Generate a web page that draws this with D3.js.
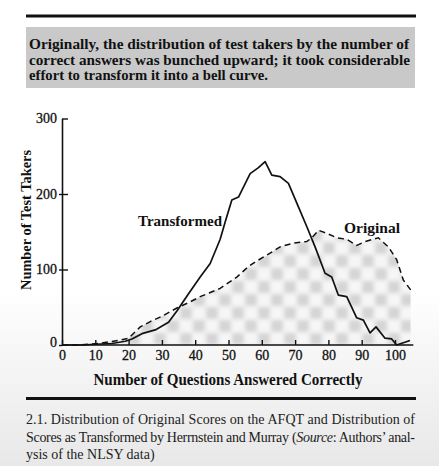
<!DOCTYPE html>
<html>
<head>
<meta charset="utf-8">
<script src="https://cdn.jsdelivr.net/npm/d3@7"></script>
<style>
  html, body { margin: 0; padding: 0; }
  body { width: 439px; height: 466px; overflow: hidden; background: #fff; }
  svg { display: block; }
</style>
</head>
<body>
<div id="chart"></div>
<script>
// values (questions answered correctly -> number of test takers)
var transformedX = [0, 6, 10, 15, 19, 21, 24, 28, 32, 34.5, 38, 41.5, 44.5, 47.5, 49, 51, 53, 56.5, 59, 61, 63, 65.5, 68, 71, 73.5, 76, 79, 81, 83, 85.5, 88.5, 90.5, 92.5, 94.3, 97, 99, 100.5, 104.5];
var transformedY = [0, 0, 1, 2, 5, 8, 15, 20, 30, 45, 68, 90, 108, 140, 163, 192, 196, 227, 235, 243, 225, 223, 214, 183, 157, 130, 95, 90, 66, 64, 36, 33, 16, 24, 9, 8, 0, 6];

var originalX = [0, 5, 11, 17, 20, 23.5, 26.5, 30, 34.5, 38, 41.5, 47.5, 52.5, 56, 58, 61.5, 65.5, 69.5, 73.5, 75, 77, 79.5, 82.5, 85.5, 88.5, 91, 95, 98, 100.5, 102.5, 104.7];
var originalY = [0, 0, 2, 6, 9, 24, 31, 38, 49, 56, 64, 75, 90, 104, 110, 119, 130, 135, 137, 142, 152, 148, 142, 140, 132, 137, 142, 130, 113, 86, 73];

var xTicks = [0, 10, 20, 30, 40, 50, 60, 70, 80, 90, 100];
var yTicks = [0, 100, 200, 300];

var headline = [
  "Originally, the distribution of test takers by the number of",
  "correct answers was bunched upward; it took considerable",
  "effort to transform it into a bell curve."
];
var caption = [
  "2.1. Distribution of Original Scores on the AFQT and Distribution of",
  "Scores as Transformed by Herrnstein and Murray (",
  "ysis of the NLSY data)"
];

var W = 439, H = 466;
var serif = "Liberation Serif, Tinos, Times New Roman, Times, serif";

var svg = d3.select("#chart").append("svg")
  .attr("width", W).attr("height", H);

var defs = svg.append("defs");

// soft photo-like shading toward the bottom of the page
var bg = defs.append("linearGradient").attr("id", "bg")
  .attr("x1", 0).attr("y1", 0).attr("x2", 0).attr("y2", 1);
bg.append("stop").attr("offset", "0.62").attr("stop-color", "#ffffff");
bg.append("stop").attr("offset", "1").attr("stop-color", "#e8e8e8");
svg.append("rect").attr("width", W).attr("height", H).attr("fill", "url(#bg)");

// checker screen under the original curve
var pat = defs.append("pattern").attr("id", "checker")
  .attr("patternUnits", "userSpaceOnUse")
  .attr("width", 26).attr("height", 26)
  .attr("x", 62).attr("y", 345);
pat.append("rect").attr("width", 26).attr("height", 26).attr("fill", "#f6f6f6");
pat.append("rect").attr("x", 1).attr("y", 1).attr("width", 12).attr("height", 12).attr("fill", "#d4d4d4");
pat.append("rect").attr("x", 14).attr("y", 14).attr("width", 12).attr("height", 12).attr("fill", "#d4d4d4");

var blur = defs.append("filter").attr("id", "soft");
blur.append("feGaussianBlur").attr("stdDeviation", 2.2);

// header rule and grey box
svg.append("rect").attr("x", 26).attr("y", 14.5).attr("width", 390).attr("height", 3).attr("fill", "#111");
svg.append("rect").attr("x", 26).attr("y", 27).attr("width", 389).attr("height", 61).attr("fill", "#c9c9c9");

svg.append("g").selectAll("text").data(headline).join("text")
  .attr("x", 29)
  .attr("y", function(d, i) { return 49 + i * 15.5; })
  .attr("textLength", function(d, i) { return [380, 381, 239][i]; })
  .attr("lengthAdjust", "spacingAndGlyphs")
  .attr("font-family", serif).attr("font-weight", "bold").attr("font-size", 15)
  .attr("fill", "#111")
  .text(function(d) { return d; });

// scales
var x = d3.scaleLinear().domain([0, 100]).range([62, 395]);
var y = d3.scaleLinear().domain([0, 300]).range([345, 118.5]);

var orig = originalX.map(function(v, i) { return [v, originalY[i]]; });
var trans = transformedX.map(function(v, i) { return [v, transformedY[i]]; });

var plot = svg.append("g");

var area = d3.area()
  .x(function(d) { return x(d[0]); })
  .y0(y(0))
  .y1(function(d) { return y(d[1]); });

defs.append("clipPath").attr("id", "under")
  .append("path").datum(orig).attr("d", area);

// blurred screen, clipped to the area so edges stay sharp
plot.append("g").attr("clip-path", "url(#under)")
  .append("rect")
  .attr("x", x(0) - 10).attr("y", y(300)).attr("width", x(106) - x(0) + 20).attr("height", y(0) - y(300) + 10)
  .attr("fill", "url(#checker)")
  .attr("filter", "url(#soft)");

var line = d3.line()
  .x(function(d) { return x(d[0]); })
  .y(function(d) { return y(d[1]); });

plot.append("path").datum(orig)
  .attr("d", line)
  .attr("fill", "none").attr("stroke", "#111")
  .attr("stroke-width", 1.5).attr("stroke-dasharray", "6,4");

plot.append("path").datum(trans)
  .attr("d", line)
  .attr("fill", "none").attr("stroke", "#111")
  .attr("stroke-width", 1.7).attr("stroke-linejoin", "round");

// axes
var xAxis = svg.append("g").attr("transform", "translate(0," + y(0) + ")")
  .call(d3.axisBottom(x).tickValues(xTicks).tickSize(-5).tickPadding(5).tickSizeOuter(0));
xAxis.select(".domain").attr("d", "M" + x(0) + ",0H" + x(105.5)).attr("stroke-width", 1.6);

var yAxis = svg.append("g").attr("transform", "translate(" + x(0) + ",0)")
  .call(d3.axisLeft(y).tickValues(yTicks).tickSize(0).tickPadding(5).tickSizeOuter(0));
yAxis.select(".domain").attr("stroke-width", 1.6);
// y ticks cross the axis, mostly to the inside
yAxis.selectAll(".tick line")
  .attr("x1", function(d) { return d === 300 ? 0 : -3; })
  .attr("x2", function(d) { return d === 0 ? 0 : 6; });

svg.selectAll(".tick line").attr("stroke", "#111").attr("stroke-width", 1.4);
svg.selectAll(".domain").attr("stroke", "#111");
svg.selectAll(".tick text")
  .attr("font-family", serif).attr("font-size", 14)
  .attr("fill", "#111").attr("stroke", "#111").attr("stroke-width", 0.3);
yAxis.selectAll(".tick text").attr("dy", "0.32em");
yAxis.selectAll(".tick").filter(function(d) { return d === 0; }).select("text").attr("dy", "0.1em");

// axis titles
svg.append("text")
  .attr("transform", "translate(31,220) rotate(-90)")
  .attr("text-anchor", "middle")
  .attr("font-family", serif).attr("font-size", 15.5).attr("font-weight", "bold")
  .attr("textLength", 140).attr("lengthAdjust", "spacingAndGlyphs")
  .attr("fill", "#111")
  .text("Number of Test Takers");

svg.append("text")
  .attr("x", 228).attr("y", 385)
  .attr("text-anchor", "middle")
  .attr("font-family", serif).attr("font-size", 16).attr("font-weight", "bold")
  .attr("textLength", 269).attr("lengthAdjust", "spacingAndGlyphs")
  .attr("fill", "#111")
  .text("Number of Questions Answered Correctly");

// series labels
svg.append("text")
  .attr("x", 138).attr("y", 226)
  .attr("font-family", serif).attr("font-size", 15).attr("font-weight", "bold")
  .attr("textLength", 84).attr("lengthAdjust", "spacingAndGlyphs")
  .attr("fill", "#111").text("Transformed");

svg.append("text")
  .attr("x", 344).attr("y", 233)
  .attr("font-family", serif).attr("font-size", 15).attr("font-weight", "bold")
  .attr("textLength", 56).attr("lengthAdjust", "spacingAndGlyphs")
  .attr("fill", "#111").text("Original");

// bottom rule and caption
svg.append("rect").attr("x", 26).attr("y", 397).attr("width", 390).attr("height", 3).attr("fill", "#111");

var cap = svg.append("g")
  .attr("font-family", serif).attr("font-size", 14).attr("fill", "#222");

cap.append("text").attr("x", 26).attr("y", 424)
  .attr("textLength", 389).attr("lengthAdjust", "spacing")
  .text(caption[0]);

var l2 = cap.append("text").attr("x", 26).attr("y", 442)
  .attr("textLength", 389).attr("lengthAdjust", "spacing");
l2.append("tspan").text(caption[1]);
l2.append("tspan").attr("font-style", "italic").text("Source");
l2.append("tspan").text(": Authors\u2019 anal-");

cap.append("text").attr("x", 26).attr("y", 459)
  .text(caption[2]);
</script>
</body>
</html>
